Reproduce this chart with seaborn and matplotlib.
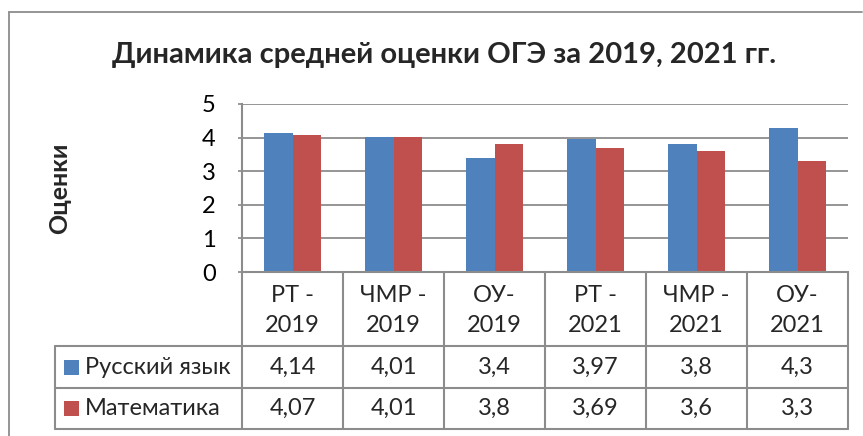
import matplotlib
matplotlib.use("Agg")
import matplotlib.pyplot as plt
import seaborn as sns
import pandas as pd
from matplotlib.lines import Line2D
from matplotlib.patches import Rectangle

categories = ["РТ -\n2019", "ЧМР -\n2019", "ОУ-\n2019", "РТ -\n2021", "ЧМР -\n2021", "ОУ-\n2021"]
series_names = ["Русский язык", "Математика"]
russian = [4.14, 4.01, 3.4, 3.97, 3.8, 4.3]
math = [4.07, 4.01, 3.8, 3.69, 3.6, 3.3]
table_text = [["4,14", "4,01", "3,4", "3,97", "3,8", "4,3"],
              ["4,07", "4,01", "3,8", "3,69", "3,6", "3,3"]]
colors = ["#4F81BD", "#C0504D"]

sns.set_theme(style="white")
plt.rcParams['font.family'] = ['Lato', 'DejaVu Sans']

W, H = 863, 436
fig = plt.figure(figsize=(W / 100, H / 100), dpi=100)

def fx(px):
    return px / W

def fy(py):
    return 1 - py / H

FS = 17

ax_l, ax_r, ax_t, ax_b = 242, 848, 104, 272
ax = fig.add_axes([fx(ax_l), fy(ax_b), fx(ax_r - ax_l), (ax_b - ax_t) / H])

df = pd.DataFrame({
    "cat": categories * 2,
    "series": [series_names[0]] * 6 + [series_names[1]] * 6,
    "value": russian + math,
})
sns.barplot(data=df, x="cat", y="value", hue="series", palette=colors,
            width=0.57, ax=ax, legend=False, saturation=1, linewidth=0)

ax.set_xlim(-0.5, 5.5)
ax.set_ylim(0, 5)
ax.set_yticks(range(0, 6))
ax.set_xticks([])
ax.set_xlabel("")
ax.set_ylabel("")
ax.yaxis.grid(True, color="#8C8C8C", linewidth=1.3)
ax.set_axisbelow(True)
for s in ["top", "right"]:
    ax.spines[s].set_visible(False)
for s in ["left", "bottom"]:
    ax.spines[s].set_color("#8C8C8C")
    ax.spines[s].set_linewidth(1.5)
ax.tick_params(axis="y", length=3, color="#8C8C8C", labelsize=FS, pad=16, left=True)
for lab in ax.get_yticklabels():
    lab.set_color("black")

grey = "#8C8C8C"

def hline(x0, x1, y):
    fig.add_artist(Line2D([fx(x0), fx(x1)], [fy(y), fy(y)], color=grey, lw=1.5))

def vline(x, y0, y1):
    fig.add_artist(Line2D([fx(x), fx(x)], [fy(y0), fy(y1)], color=grey, lw=1.5))

# Outer chart border
fig.add_artist(Line2D([fx(9), fx(862)], [fy(12), fy(12)], color="#8C8C8C", lw=1.3))
fig.add_artist(Line2D([fx(9), fx(9)], [fy(12), fy(436)], color="#8C8C8C", lw=1.3))

# Data table
col_w = (ax_r - ax_l) / 6
rows_y = [ax_b, 346, 388, 429]
for i in range(7):
    vline(ax_l + i * col_w, ax_b, rows_y[-1])
for y in rows_y[1:]:
    hline(55, ax_r, y)
vline(55, rows_y[1], rows_y[-1])

for i, cat in enumerate(categories):
    cx = ax_l + (i + 0.5) * col_w
    top, bot = cat.split("\n")
    fig.text(fx(cx), fy(295), top, ha="center", va="center", fontsize=FS)
    fig.text(fx(cx), fy(325), bot, ha="center", va="center", fontsize=FS)

for r in range(2):
    yc = (rows_y[r + 1] + rows_y[r + 2]) / 2
    fig.add_artist(Rectangle((fx(64), fy(yc + 7.5)), 15 / W, 15 / H,
                             facecolor=colors[r], edgecolor="none"))
    fig.text(fx(85), fy(yc), series_names[r], ha="left", va="center", fontsize=FS)
    for i in range(6):
        cx = ax_l + (i + 0.5) * col_w
        fig.text(fx(cx), fy(yc), table_text[r][i], ha="center", va="center", fontsize=FS)

fig.text(fx(444), fy(55), "Динамика средней оценки ОГЭ за 2019, 2021 гг.",
         ha="center", va="center", fontsize=21, fontweight="bold")
fig.text(fx(60), fy(188), "Оценки", ha="center", va="center", rotation=90,
         fontsize=18, fontweight="bold")

fig.savefig("out.png", dpi=100, facecolor="white")
